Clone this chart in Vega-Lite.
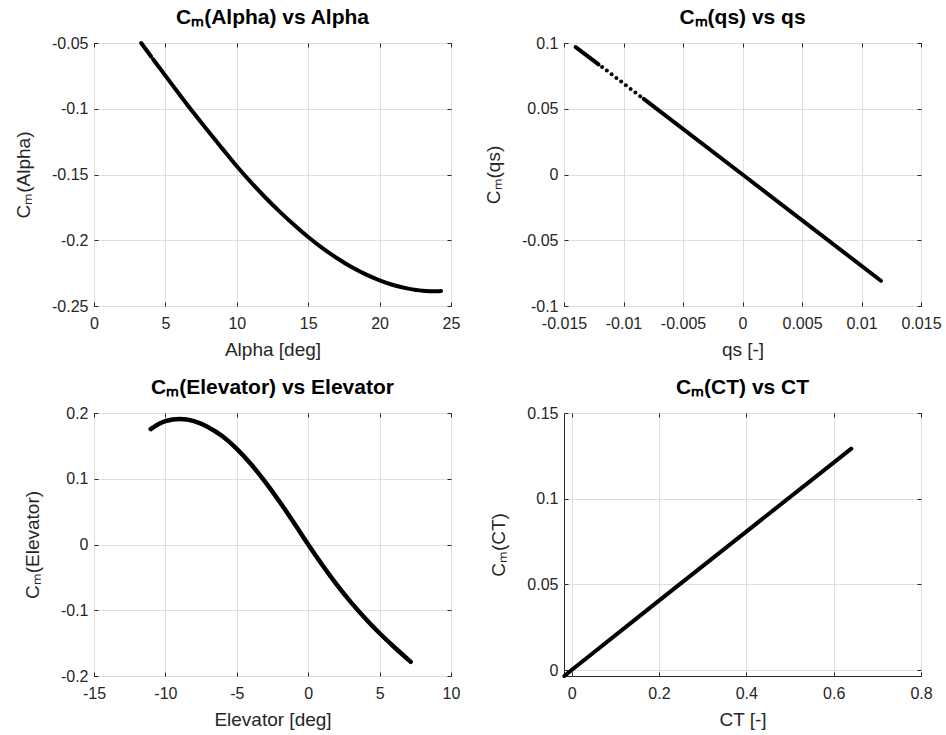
{
  "$schema": "https://vega.github.io/schema/vega-lite/v6.json",
  "padding": {"left": 14, "top": 6, "right": 5, "bottom": 5},
  "background": "white",
  "datasets": {
    "alpha": [
      {"x": 3.3, "y": -0.05, "seg": "a"},
      {"x": 3.6, "y": -0.0544, "seg": "a"},
      {"x": 4.0, "y": -0.0603, "seg": "a"},
      {"x": 4.15, "y": -0.0625, "seg": "b"},
      {"x": 5, "y": -0.0748, "seg": "b"},
      {"x": 6, "y": -0.0893, "seg": "b"},
      {"x": 7, "y": -0.1035, "seg": "b"},
      {"x": 8, "y": -0.1172, "seg": "b"},
      {"x": 9, "y": -0.1305, "seg": "b"},
      {"x": 10, "y": -0.1437, "seg": "b"},
      {"x": 11, "y": -0.156, "seg": "b"},
      {"x": 12, "y": -0.1675, "seg": "b"},
      {"x": 13, "y": -0.1782, "seg": "b"},
      {"x": 14, "y": -0.1882, "seg": "b"},
      {"x": 15, "y": -0.1975, "seg": "b"},
      {"x": 16, "y": -0.206, "seg": "b"},
      {"x": 17, "y": -0.2135, "seg": "b"},
      {"x": 18, "y": -0.2202, "seg": "b"},
      {"x": 19, "y": -0.2258, "seg": "b"},
      {"x": 20, "y": -0.2305, "seg": "b"},
      {"x": 21, "y": -0.2342, "seg": "b"},
      {"x": 22, "y": -0.2368, "seg": "b"},
      {"x": 23, "y": -0.2384, "seg": "b"},
      {"x": 24, "y": -0.2388, "seg": "b"},
      {"x": 24.3, "y": -0.2386, "seg": "b"}
    ],
    "qs": [
      {"x": -0.01402, "y": 0.0969, "seg": "a"},
      {"x": -0.0121, "y": 0.0838, "seg": "a"},
      {"x": -0.0083, "y": 0.0575, "seg": "b"},
      {"x": 0, "y": 0, "seg": "b"},
      {"x": 0.01163, "y": -0.0808, "seg": "b"}
    ],
    "qsdots": [
      {"x": -0.0118, "y": 0.0817},
      {"x": -0.0114, "y": 0.0790},
      {"x": -0.0110, "y": 0.0762},
      {"x": -0.0106, "y": 0.0734},
      {"x": -0.0102, "y": 0.0707},
      {"x": -0.0098, "y": 0.0679},
      {"x": -0.0094, "y": 0.0651},
      {"x": -0.0090, "y": 0.0624},
      {"x": -0.0086, "y": 0.0596}
    ],
    "elev": [
      {"x": -11.03, "y": 0.1756},
      {"x": -10.5, "y": 0.1828},
      {"x": -10, "y": 0.1875},
      {"x": -9.5, "y": 0.1902},
      {"x": -9, "y": 0.191},
      {"x": -8.5, "y": 0.1902},
      {"x": -8, "y": 0.1875},
      {"x": -7, "y": 0.1785},
      {"x": -6, "y": 0.1646},
      {"x": -5, "y": 0.1455},
      {"x": -4, "y": 0.1221},
      {"x": -3, "y": 0.095},
      {"x": -2, "y": 0.065},
      {"x": -1, "y": 0.033},
      {"x": 0, "y": 0},
      {"x": 1, "y": -0.0315},
      {"x": 2, "y": -0.061},
      {"x": 3, "y": -0.088},
      {"x": 4, "y": -0.1125},
      {"x": 5, "y": -0.135},
      {"x": 6, "y": -0.1555},
      {"x": 7, "y": -0.175},
      {"x": 7.18, "y": -0.1785}
    ],
    "ct": [
      {"x": -0.0167, "y": -0.0035},
      {"x": 0, "y": 0},
      {"x": 0.2, "y": 0.0405},
      {"x": 0.4, "y": 0.0808},
      {"x": 0.6, "y": 0.121},
      {"x": 0.6404, "y": 0.1292}
    ]
  },
  "config": {
    "font": "Liberation Sans",
    "view": {"stroke": "#262626", "strokeWidth": 1},
    "axis": {
      "domain": false,
      "grid": true,
      "gridColor": "#dfdfdf",
      "gridWidth": 1,
      "tickColor": "#262626",
      "tickSize": -4,
      "labelFontSize": 16,
      "labelColor": "#262626",
      "labelPadding": 13,
      "labelFlush": false,
      "labelOverlap": false,
      "titleFontSize": 19,
      "titleFontWeight": "normal",
      "titleColor": "#262626",
      "titlePadding": 9
    },
    "axisLeft": {"labelPadding": 10, "titlePadding": 18},
    "title": {"fontSize": 21, "fontWeight": "bold", "color": "#000000", "offset": 7}
  },
  "columns": 2,
  "spacing": {"row": 107, "column": 113},
  "bounds": "flush",
  "concat": [
    {
      "width": 357, "height": 263,
      "title": "Cₘ(Alpha) vs Alpha",
      "data": {"name": "alpha"},
      "resolve": {"axis": {"x": "independent", "y": "independent"}},
      "layer": [
        {
          "mark": {"type": "line", "color": "black", "strokeWidth": 4, "strokeCap": "round", "strokeJoin": "round", "interpolate": "monotone"},
          "encoding": {
            "x": {"field": "x", "type": "quantitative", "scale": {"domain": [0, 25], "nice": false, "zero": false}, "axis": {"orient": "bottom", "values": [0, 5, 10, 15, 20, 25], "title": "Alpha [deg]", "labelExpr": "'' + datum.value"}},
            "y": {"field": "y", "type": "quantitative", "scale": {"domain": [-0.25, -0.05], "nice": false, "zero": false}, "axis": {"orient": "left", "values": [-0.25, -0.2, -0.15, -0.1, -0.05], "title": "Cₘ(Alpha)", "labelExpr": "'' + datum.value"}},
            "detail": {"field": "seg"}
          }
        },
        {
          "mark": {"type": "line", "opacity": 0},
          "encoding": {
            "x": {"field": "x", "type": "quantitative", "axis": {"orient": "top", "values": [0, 5, 10, 15, 20, 25], "labels": false, "grid": false, "title": null}},
            "y": {"field": "y", "type": "quantitative", "axis": {"orient": "right", "values": [-0.25, -0.2, -0.15, -0.1, -0.05], "labels": false, "grid": false, "title": null}},
            "detail": {"field": "seg"}
          }
        }
      ]
    },
    {
      "width": 357, "height": 263,
      "title": "Cₘ(qs) vs qs",
      "resolve": {"axis": {"x": "independent", "y": "independent"}},
      "layer": [
        {
          "data": {"name": "qs"},
          "mark": {"type": "line", "color": "black", "strokeWidth": 4, "strokeCap": "round", "strokeJoin": "round"},
          "encoding": {
            "x": {"field": "x", "type": "quantitative", "scale": {"domain": [-0.015, 0.015], "nice": false, "zero": false}, "axis": {"orient": "bottom", "values": [-0.015, -0.01, -0.005, 0, 0.005, 0.01, 0.015], "title": "qs [-]", "labelExpr": "'' + datum.value"}},
            "y": {"field": "y", "type": "quantitative", "scale": {"domain": [-0.1, 0.1], "nice": false, "zero": false}, "axis": {"orient": "left", "values": [-0.1, -0.05, 0, 0.05, 0.1], "title": "Cₘ(qs)", "labelExpr": "'' + datum.value"}},
            "detail": {"field": "seg"}
          }
        },
        {
          "data": {"name": "qsdots"},
          "mark": {"type": "point", "filled": true, "color": "black", "size": 16, "opacity": 1},
          "encoding": {
            "x": {"field": "x", "type": "quantitative", "axis": {"orient": "top", "values": [-0.015, -0.01, -0.005, 0, 0.005, 0.01, 0.015], "labels": false, "grid": false, "title": null}},
            "y": {"field": "y", "type": "quantitative", "axis": {"orient": "right", "values": [-0.1, -0.05, 0, 0.05, 0.1], "labels": false, "grid": false, "title": null}}
          }
        }
      ]
    },
    {
      "width": 357, "height": 263,
      "title": "Cₘ(Elevator) vs Elevator",
      "data": {"name": "elev"},
      "resolve": {"axis": {"x": "independent", "y": "independent"}},
      "layer": [
        {
          "mark": {"type": "line", "color": "black", "strokeWidth": 4.5, "strokeCap": "round", "strokeJoin": "round", "interpolate": "monotone"},
          "encoding": {
            "x": {"field": "x", "type": "quantitative", "scale": {"domain": [-15, 10], "nice": false, "zero": false}, "axis": {"orient": "bottom", "values": [-15, -10, -5, 0, 5, 10], "title": "Elevator [deg]", "labelExpr": "'' + datum.value"}},
            "y": {"field": "y", "type": "quantitative", "scale": {"domain": [-0.2, 0.2], "nice": false, "zero": false}, "axis": {"orient": "left", "values": [-0.2, -0.1, 0, 0.1, 0.2], "title": "Cₘ(Elevator)", "labelExpr": "'' + datum.value"}}
          }
        },
        {
          "mark": {"type": "line", "opacity": 0},
          "encoding": {
            "x": {"field": "x", "type": "quantitative", "axis": {"orient": "top", "values": [-15, -10, -5, 0, 5, 10], "labels": false, "grid": false, "title": null}},
            "y": {"field": "y", "type": "quantitative", "axis": {"orient": "right", "values": [-0.2, -0.1, 0, 0.1, 0.2], "labels": false, "grid": false, "title": null}}
          }
        }
      ]
    },
    {
      "width": 357, "height": 263,
      "title": "Cₘ(CT) vs CT",
      "data": {"name": "ct"},
      "resolve": {"axis": {"x": "independent", "y": "independent"}},
      "layer": [
        {
          "mark": {"type": "line", "color": "black", "strokeWidth": 4, "strokeCap": "round", "strokeJoin": "round"},
          "encoding": {
            "x": {"field": "x", "type": "quantitative", "scale": {"domain": [-0.0175, 0.8], "nice": false, "zero": false}, "axis": {"orient": "bottom", "values": [0, 0.2, 0.4, 0.6, 0.8], "title": "CT [-]", "labelExpr": "'' + datum.value"}},
            "y": {"field": "y", "type": "quantitative", "scale": {"domain": [-0.0035, 0.15], "nice": false, "zero": false}, "axis": {"orient": "left", "values": [0, 0.05, 0.1, 0.15], "title": "Cₘ(CT)", "labelExpr": "'' + datum.value"}}
          }
        },
        {
          "mark": {"type": "line", "opacity": 0},
          "encoding": {
            "x": {"field": "x", "type": "quantitative", "axis": {"orient": "top", "values": [0, 0.2, 0.4, 0.6, 0.8], "labels": false, "grid": false, "title": null}},
            "y": {"field": "y", "type": "quantitative", "axis": {"orient": "right", "values": [0, 0.05, 0.1, 0.15], "labels": false, "grid": false, "title": null}}
          }
        }
      ]
    }
  ]
}
